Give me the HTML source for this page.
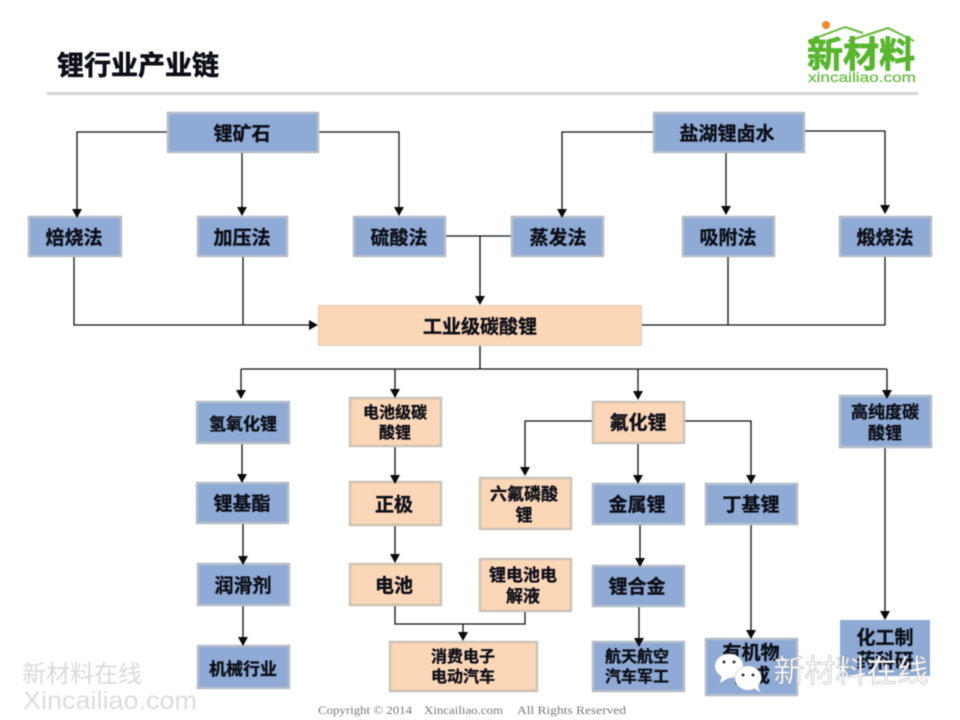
<!DOCTYPE html>
<html><head><meta charset="utf-8">
<style>
html,body{margin:0;padding:0;background:#fff;width:960px;height:720px;overflow:hidden}
svg{display:block;filter:blur(.45px)}
text{font-family:"Liberation Sans","Noto Sans CJK SC",sans-serif;font-weight:700;fill:#0d0f18;text-anchor:middle}
.t text{stroke:#0d0f18;stroke-width:.35}
.b{fill:#8eaad5;stroke:#b4bdca;stroke-width:2.5}
.p{fill:#fbd6b7;stroke:#cdc3b8;stroke-width:2.5}
.l{fill:none;stroke:#111;stroke-width:1.3}
.a{fill:#0a0a0a}
.f{font-family:"Liberation Serif",serif;font-weight:400;fill:#777;text-anchor:start}
</style></head><body>
<svg width="960" height="720" viewBox="0 0 960 720" xmlns="http://www.w3.org/2000/svg">
<rect width="960" height="720" fill="#fff"/>
<text x="138" y="75" font-size="27" style="stroke:#0d0f18;stroke-width:.6">锂行业产业链</text>
<rect x="47" y="92" width="871" height="3" fill="#d6d6d6"/>

<!-- logo -->
<polyline points="808,41 845,27 863,33" fill="none" stroke="#67b93a" stroke-width="2"/>
<polyline points="848,41 888,28 914,41" fill="none" stroke="#67b93a" stroke-width="2"/>
<circle cx="826" cy="25" r="4" fill="#ee8a28"/>
<text x="861" y="67" font-size="36" style="fill:#58b52e;stroke:#58b52e;stroke-width:.8">新材料</text>
<text x="862" y="82" font-size="14" textLength="108" lengthAdjust="spacingAndGlyphs" style="fill:#6dbd48;font-weight:400;stroke:#6dbd48;stroke-width:.3">xincailiao.com</text>

<!-- connectors -->
<g class="l">
<polyline points="167,132 77,132 77,210"/>
<line x1="242" y1="152" x2="242" y2="210"/>
<polyline points="319,132 399,132 399,210"/>
<polyline points="653,132 562,132 562,212"/>
<line x1="726" y1="153" x2="726" y2="208"/>
<polyline points="803,131 885,131 885,208"/>
<polyline points="74,256 74,325 312,325"/>
<line x1="243" y1="256" x2="243" y2="325"/>
<line x1="446" y1="236" x2="512" y2="236"/>
<line x1="480" y1="236" x2="480" y2="299"/>
<line x1="728" y1="256" x2="728" y2="325"/>
<polyline points="885,256 885,325 642,325"/>
<line x1="480" y1="346" x2="480" y2="369"/>
<line x1="241" y1="369" x2="887" y2="369"/>
<line x1="241" y1="369" x2="241" y2="392"/>
<line x1="395" y1="369" x2="395" y2="391"/>
<line x1="638" y1="369" x2="638" y2="394"/>
<line x1="887" y1="369" x2="887" y2="393"/>
<polyline points="592,421 525,421 525,470"/>
<polyline points="685,421 751,421 751,477"/>
<line x1="638" y1="443" x2="638" y2="477"/>
<line x1="885" y1="448" x2="885" y2="614"/>
<line x1="242" y1="444" x2="242" y2="476"/>
<line x1="243" y1="524" x2="243" y2="558"/>
<line x1="243" y1="606" x2="243" y2="640"/>
<line x1="395" y1="447" x2="395" y2="475"/>
<line x1="395" y1="526" x2="395" y2="557"/>
<polyline points="395,606 395,624 525,624 525,611"/>
<line x1="463" y1="624" x2="463" y2="635"/>
<line x1="640" y1="525" x2="640" y2="560"/>
<line x1="639" y1="606" x2="639" y2="641"/>
<line x1="751" y1="525" x2="751" y2="633"/>
</g>

<!-- boxes -->
<rect class="b" x="168" y="113" width="150" height="39"/>
<rect class="b" x="654" y="113" width="150" height="39"/>
<rect class="b" x="29" y="217" width="92" height="39"/>
<rect class="b" x="198" y="217" width="89" height="39"/>
<rect class="b" x="354" y="217" width="91" height="39"/>
<rect class="b" x="512" y="217" width="91" height="39"/>
<rect class="b" x="683" y="217" width="91" height="39"/>
<rect class="b" x="840" y="217" width="91" height="39"/>
<rect x="318.500" y="305.500" width="323" height="40" fill="#fbd6b7" stroke="#ddcdbd" stroke-width="1"/>
<rect class="b" x="197" y="402" width="92" height="41"/>
<rect class="p" x="350" y="398" width="91" height="48"/>
<rect class="p" x="593" y="402" width="91" height="41"/>
<rect class="b" x="840" y="396" width="91" height="51"/>
<rect class="p" x="480" y="478" width="91" height="51"/>
<rect class="b" x="593" y="484" width="91" height="40"/>
<rect class="b" x="706" y="484" width="91" height="40"/>
<rect class="b" x="197" y="483" width="91" height="40"/>
<rect class="p" x="350" y="482" width="91" height="43"/>
<rect class="b" x="198" y="564" width="91" height="41"/>
<rect class="p" x="350" y="564" width="91" height="41"/>
<rect class="p" x="480" y="559" width="91" height="52"/>
<rect class="b" x="593" y="566" width="91" height="40"/>
<rect class="b" x="198" y="646" width="91" height="42"/>
<rect class="p" x="390" y="642" width="147" height="49"/>
<rect class="b" x="593" y="642" width="91" height="49"/>
<rect class="b" x="706" y="639" width="91" height="56"/>
<rect x="840" y="620" width="90" height="56" fill="#8eaad5"/>

<!-- arrowheads -->
<g class="a">
<polygon points="77,218 72,209 82,209"/>
<polygon points="242,216 237,207 247,207"/>
<polygon points="399,216 394,207 404,207"/>
<polygon points="562,218 557,209 567,209"/>
<polygon points="726,215 721,206 731,206"/>
<polygon points="885,214 880,205 890,205"/>
<polygon points="318,325 309,320 309,330"/>
<polygon points="480,305 475,296 485,296"/>
<polygon points="241,399 236,390 246,390"/>
<polygon points="395,398 390,389 400,389"/>
<polygon points="638,400 633,391 643,391"/>
<polygon points="887,399 882,390 892,390"/>
<polygon points="525,476 520,467 530,467"/>
<polygon points="638,484 633,475 643,475"/>
<polygon points="751,484 746,475 756,475"/>
<polygon points="885,620 880,611 890,611"/>
<polygon points="242,483 237,474 247,474"/>
<polygon points="243,565 238,556 248,556"/>
<polygon points="243,646 238,637 248,637"/>
<polygon points="395,484 390,475 400,475"/>
<polygon points="395,563 390,554 400,554"/>
<polygon points="463,641 458,632 468,632"/>
<polygon points="640,567 635,558 645,558"/>
<polygon points="639,647 634,638 644,638"/>
<polygon points="751,639 746,630 756,630"/>
</g>

<!-- labels -->
<g class="t">
<g font-size="19">
<text x="242" y="140">锂矿石</text>
<text x="727" y="140">盐湖锂卤水</text>
<text x="74" y="244">焙烧法</text>
<text x="242" y="244">加压法</text>
<text x="399" y="244">硫酸法</text>
<text x="558" y="244">蒸发法</text>
<text x="728" y="244">吸附法</text>
<text x="885" y="244">煅烧法</text>
<text x="480" y="333">工业级碳酸锂</text>
<text x="638" y="429">氟化锂</text>
<text x="637" y="511">金属锂</text>
<text x="751" y="511">丁基锂</text>
<text x="242" y="510">锂基酯</text>
<text x="394" y="511">正极</text>
<text x="243" y="592">润滑剂</text>
<text x="394" y="592">电池</text>
<text x="637" y="593">锂合金</text>
<text x="885" y="644">化工制</text>
<text x="885" y="667">药科研</text>
<text x="751" y="659">有机物</text>
<text x="751" y="682">合成</text>
</g>
<g font-size="17">
<text x="243" y="430">氢氧化锂</text>
<text x="885" y="418">高纯度碳</text>
<text x="885" y="439">酸锂</text>
<text x="524" y="500">六氟磷酸</text>
<text x="524" y="521">锂</text>
<text x="523" y="581">锂电池电</text>
<text x="523" y="602">解液</text>
<text x="243" y="675">机械行业</text>
</g>
<g font-size="16">
<text x="395" y="418">电池级碳</text>
<text x="395" y="438">酸锂</text>
<text x="463" y="662">消费电子</text>
<text x="463" y="682">电动汽车</text>
<text x="637" y="662">航天航空</text>
<text x="637" y="682">汽车军工</text>
</g>
</g>

<!-- footer and watermarks -->
<text class="f" x="318" y="714" font-size="12" textLength="94" lengthAdjust="spacingAndGlyphs">Copyright © 2014</text>
<text class="f" x="424" y="714" font-size="12" textLength="79" lengthAdjust="spacingAndGlyphs">Xincailiao.com</text>
<text class="f" x="517" y="714" font-size="12" textLength="109" lengthAdjust="spacingAndGlyphs">All Rights Reserved</text>
<text x="82" y="682" font-size="24" style="font-weight:400;fill:#dadada">新材料在线</text>
<text x="110" y="709" font-size="25" textLength="174" lengthAdjust="spacingAndGlyphs" style="font-weight:400;fill:#dcdcdc">Xincailiao.com</text>

<!-- wechat -->
<ellipse cx="729" cy="666" rx="14" ry="12" fill="#fff" stroke="#ccc" stroke-width=".7"/>
<polygon points="722,675 720,683 730,677" fill="#fff"/>
<circle cx="724" cy="662" r="1.500" fill="#333"/><circle cx="734" cy="662" r="1.500" fill="#333"/>
<ellipse cx="748" cy="678" rx="13" ry="12" fill="#fff" stroke="#ccc" stroke-width=".7"/>
<polygon points="752,687 760,692 757,683" fill="#fff"/>
<circle cx="743" cy="675" r="1.500" fill="#333"/><circle cx="753" cy="675" r="1.500" fill="#333"/>
<text x="851" y="682" font-size="31" style="font-weight:400;fill:#fff;stroke:#aaa;stroke-width:.5">新材料在线</text>
</svg>
</body></html>
